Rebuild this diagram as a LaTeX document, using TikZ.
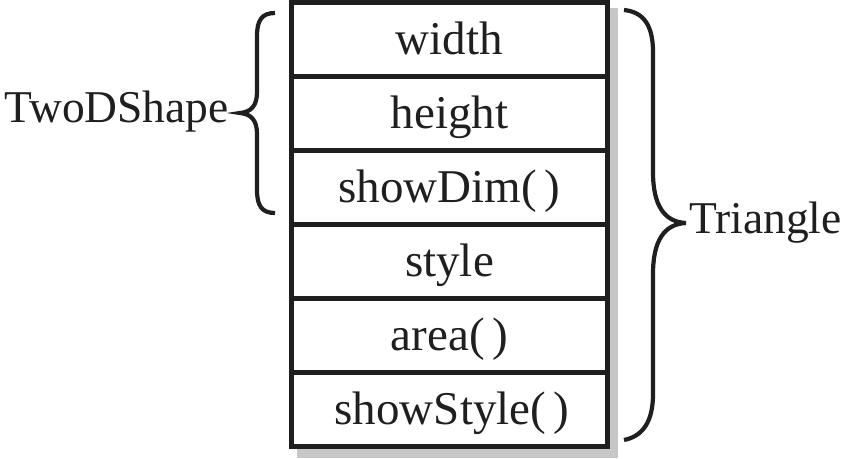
\documentclass[tikz,border=0pt]{standalone}
\usepackage{fontspec}
\setmainfont{Liberation Serif}
\newcommand{\emptyparens}{(\hspace{0.16em})}
\begin{document}
\begin{tikzpicture}[x=1pt,y=-1pt,
  rowtext/.style={anchor=base,inner sep=0pt,font=\fontsize{47}{56}\selectfont,text=black!88},
  lbl/.style={inner sep=0pt,font=\fontsize{45.5}{54}\selectfont,text=black!88},
  boxline/.style={line width=4.8pt,draw=black!88},
  bracel/.style={line width=4.2pt,draw=black!88,line cap=butt}]
\useasboundingbox (0,0) rectangle (845,458);
% shadow
\fill[black!22] (297,8) rectangle (618,458);
% box
\fill[white] (291.5,2.5) rectangle (607.5,446.5);
\foreach \i in {1,...,5} {
  \draw[boxline] (291.5,{2.5+74*\i}) -- (607.5,{2.5+74*\i});
}
\draw[boxline] (291.5,2.5) rectangle (607.5,446.5);
% row texts
\node[rowtext] (r1) at (449.5,{2.5+74*0.5+15}) {width};
\node[rowtext] (r2) at (449.5,{2.5+74*1.5+15}) {height};
\node[rowtext] (r3) at (449.5,{2.5+74*2.5+15}) {showDim\emptyparens};
\node[rowtext] (r4) at (449.5,{2.5+74*3.5+15}) {style};
\node[rowtext] (r5) at (449.5,{2.5+74*4.5+15}) {area\emptyparens};
\node[rowtext] (r6) at (452,{2.5+74*5.5+15}) {showStyle\emptyparens};
% left brace
\draw[bracel] (275,13) .. controls (262,13) and (257,20) .. (257,36)
  -- (257,92) .. controls (257,106) and (251,112) .. (240,113)
  .. controls (251,114) and (257,120) .. (257,134)
  -- (257,190) .. controls (257,206) and (262,213) .. (275,213);
% right brace
\draw[bracel] (624,10) .. controls (644,12) and (653,26) .. (653,52)
  -- (653,172) .. controls (653,205) and (664,222) .. (686,223)
  .. controls (664,224) and (653,241) .. (653,274)
  -- (653,394) .. controls (653,420) and (644,436) .. (624,440);
% labels
\node[lbl,anchor=base east] (two) at (229,122) {TwoDShape};
\node[lbl,anchor=base west] (tri) at (689,233) {Triangle};
\end{tikzpicture}
\end{document}
